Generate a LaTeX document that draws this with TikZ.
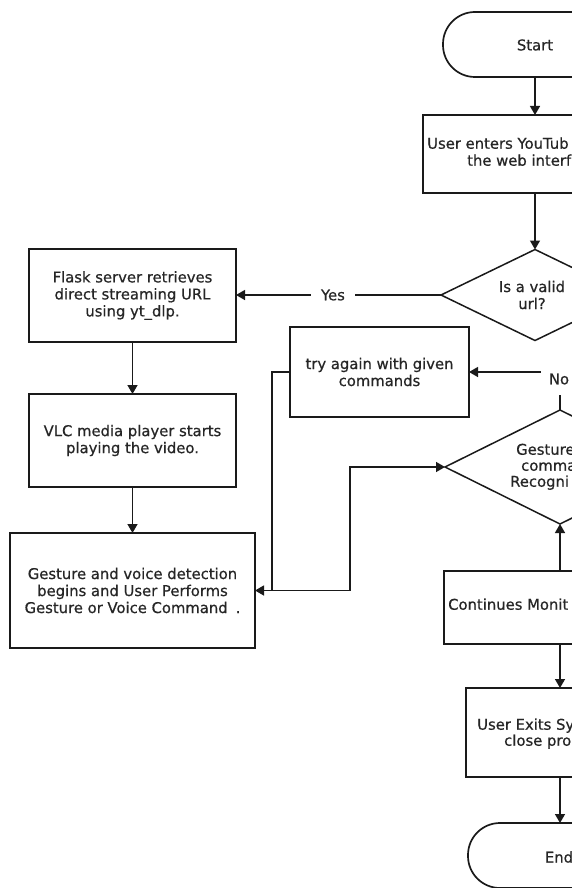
\documentclass[tikz,border=0pt]{standalone}
\usepackage{fontspec}
\setmainfont[FakeBold=0.6]{DejaVu Sans}
\usetikzlibrary{arrows.meta,shapes.geometric}
\definecolor{ink}{HTML}{1A1A1A}
\definecolor{txt}{HTML}{262626}
\begin{document}
\begin{tikzpicture}[x=1pt,y=-1pt,
  every node/.style={font=\fontsize{14.8}{17}\selectfont, text=txt},
  box/.style={draw=ink, line width=1.7pt, inner sep=0pt, outer sep=0pt, align=center},
  term/.style={box, rounded corners=32pt},
  thickbox/.style={box, line width=2.8pt},
  dec/.style={draw=ink, line width=1.5pt, shape=diamond, inner sep=0pt, outer sep=0pt},
  conn/.style={draw=ink, line width=1.4pt},
  arr/.style={conn, -{Triangle[width=10pt,length=9pt]}},
  lbl/.style={inner sep=0pt, anchor=mid west}
]
\useasboundingbox (0,0) rectangle (572,888);
\fill[white] (0,0) rectangle (572,888);
\clip (0,0) rectangle (572,888);

% main column (partly outside the crop)
\node[term, minimum width=184pt, minimum height=65pt] (start) at (535,44.5) {};
\node (tstart) at (535,45) {Start};
\node[box, minimum width=224pt, minimum height=78pt] (enter) at (535,154) {};
\node[lbl] (t1a) at (427,146) {User enters YouTub};
\node[lbl] (t1b) at (467,163) {the web interf};
\node[dec, minimum width=188pt, minimum height=91pt] (d1) at (535,295) {};
\node[align=center] (t2) at (532,295) {Is a valid\\url?};

% left column
\node[box, minimum width=207pt, minimum height=93pt] (flask) at (132.5,295.5)
  {Flask server retrieves\\direct streaming URL\\using yt\_dlp.};
\node[box, minimum width=207pt, minimum height=93pt] (vlc) at (132.5,440.5)
  {VLC media player starts\\playing the video.};
\node[box, minimum width=245pt, minimum height=115pt] (gest) at (132.5,590.5)
  {Gesture and voice detection\\begins and User Performs\\Gesture or Voice Command\hspace{8pt}.};

% middle
\node[thickbox, minimum width=179pt, minimum height=90pt] (try) at (379.5,372)
  {try again with given\\commands};

% second decision and lower column
\node[dec, minimum width=230pt, minimum height=114pt] (d2) at (560,467) {};
\node[lbl] (t3a) at (516,452) {Gesture};
\node[lbl] (t3b) at (521,468) {comma};
\node[lbl] (t3c) at (510,484) {Recogni};
\node[inner sep=0pt] (no) at (559,379) {No};

\node[box, minimum width=232pt, minimum height=73pt] (cont) at (560,607.5) {};
\node[lbl] (t4) at (448,607) {Continues Monit};
\node[box, minimum width=188pt, minimum height=89pt] (exit) at (560,732.5) {};
\node[lbl] (t5a) at (477,727) {User Exits Sy};
\node[lbl] (t5b) at (504,743) {close pro};
\node[term, minimum width=184pt, minimum height=65pt] (end) at (560,855.5) {};
\node (tend) at (559,857) {End};

% connectors
\draw[arr] (start) -- (enter);
\draw[arr] (enter) -- (d1);
\draw[arr] (d1.west) -- node[fill=white, inner xsep=10pt, inner ysep=1pt, pos=0.527] (yes) {Yes} (d1.west -| flask.east);
\draw[arr] (flask) -- (vlc);
\draw[arr] (vlc) -- (gest);
\draw[arr] (try.west) -- ++(-18,0) |- (gest.east);
\draw[arr] (gest.east) -- ++(95,0) |- (d2.west);
\draw[conn] (d2.north) -- ++(0,-15);
\draw[arr] ([xshift=-8pt]no.west |- try.east) -- (try.east);
\draw[arr] (cont) -- (d2);
\draw[arr] (cont) -- (exit);
\draw[arr] (exit) -- (end);
\end{tikzpicture}
\end{document}
